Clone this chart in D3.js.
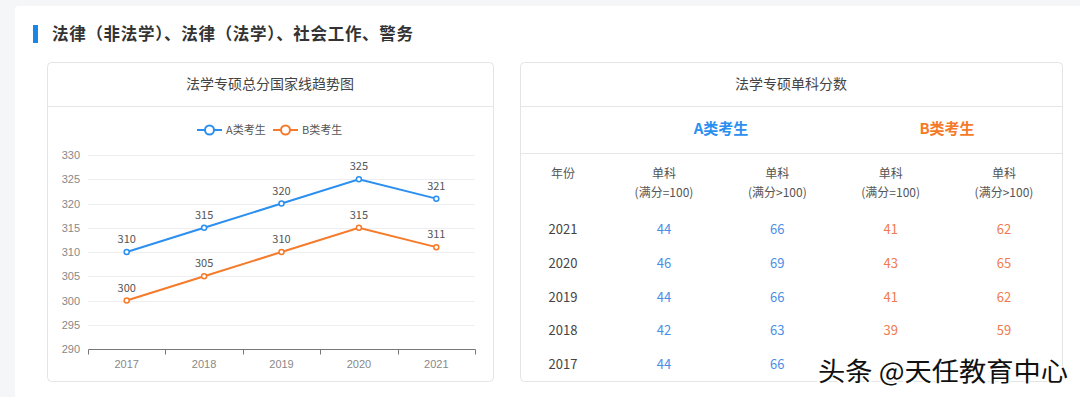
<!DOCTYPE html>
<html>
<head>
<meta charset="utf-8">
<script src="https://cdn.jsdelivr.net/npm/d3@7"></script>
<style>
  html, body { margin: 0; padding: 0; background: #f5f6f8; }
  svg { display: block; font-family: "Noto Sans CJK SC", "Noto Sans", sans-serif; }
</style>
</head>
<body>
<svg id="chart" width="1080" height="397"></svg>
<script>
// line chart data
const years = ['2017', '2018', '2019', '2020', '2021'];
const seriesA = [310, 315, 320, 325, 321];
const seriesB = [300, 305, 310, 315, 311];
const yTicks = [290, 295, 300, 305, 310, 315, 320, 325, 330];

// table data (rows from newest to oldest)
const tableYears = ['2021', '2020', '2019', '2018', '2017'];
const aFull100 = [44, 46, 44, 42, 44];
const aOver100 = [66, 69, 66, 63, 66];
const bFull100 = [41, 43, 41, 39, null];   // 2017 hidden under watermark
const bOver100 = [62, 65, 62, 59, null];
const colHeads = ['(满分=100)', '(满分>100)', '(满分=100)', '(满分>100)'];

const blue = '#2b8ff0';
const orange = '#f57a2a';

const svg = d3.select('#chart');

// white panel
svg.append('rect').attr('x', 15).attr('y', 6).attr('width', 1080).attr('height', 400)
    .attr('rx', 4).attr('fill', '#fff');

// section title
svg.append('rect').attr('x', 33).attr('y', 25).attr('width', 5).attr('height', 18).attr('fill', '#1a86e8');
svg.append('text').attr('x', 52).attr('y', 40).attr('font-size', 16.5).attr('font-weight', 'bold')
    .attr('fill', '#333').attr('textLength', 361).attr('lengthAdjust', 'spacing')
    .text('法律（非法学）、法律（法学）、社会工作、警务');

// cards
function card(x, w, title) {
    svg.append('rect').attr('x', x + 0.5).attr('y', 62.5).attr('width', w).attr('height', 319)
        .attr('rx', 4).attr('fill', '#fff').attr('stroke', '#e4e4e4');
    svg.append('line').attr('x1', x + 1).attr('x2', x + w).attr('y1', 106.5).attr('y2', 106.5)
        .attr('stroke', '#e6e6e6');
    svg.append('text').attr('x', x + w / 2).attr('y', 89).attr('text-anchor', 'middle')
        .attr('font-size', 14).attr('fill', '#444').text(title);
}
card(47, 446, '法学专硕总分国家线趋势图');
card(520, 542, '法学专硕单科分数');

// ---- line chart ----
const x = d3.scaleBand().domain(years).range([88, 475]);
const y = d3.scaleLinear().domain([290, 330]).range([349, 155]);

const grid = svg.append('g');
grid.selectAll('line').data(yTicks.slice(1)).enter().append('line')
    .attr('x1', 88).attr('x2', 475)
    .attr('y1', d => Math.round(y(d)) + 0.5).attr('y2', d => Math.round(y(d)) + 0.5)
    .attr('stroke', '#eceef2');

const yAxis = svg.append('g').attr('transform', 'translate(88,0)')
    .call(d3.axisLeft(y).tickValues(yTicks).tickSize(0).tickPadding(8));
yAxis.select('.domain').remove();
yAxis.selectAll('text').attr('fill', '#888').attr('font-size', 11).attr('font-family', null);

const xAxis = svg.append('g').attr('transform', 'translate(0,349.5)')
    .call(d3.axisBottom(x).tickSize(0).tickPadding(11));
xAxis.select('.domain').attr('stroke', '#777').attr('d', 'M88.5,0H475.5');
xAxis.selectAll('text').attr('fill', '#888').attr('font-size', 11).attr('font-family', null);
// ticks between bands
xAxis.selectAll('.sep').data(d3.range(years.length + 1)).enter().append('line')
    .attr('x1', i => Math.round(88 + i * x.step()) + 0.5)
    .attr('x2', i => Math.round(88 + i * x.step()) + 0.5)
    .attr('y1', 0).attr('y2', 5).attr('stroke', '#777');

const line = d3.line().x((d, i) => x(years[i]) + x.bandwidth() / 2).y(d => y(d));

[[seriesA, blue], [seriesB, orange]].forEach(([vals, color]) => {
    svg.append('path').datum(vals).attr('d', line).attr('fill', 'none')
        .attr('stroke', color).attr('stroke-width', 2);
    svg.selectAll(null).data(vals).enter().append('circle')
        .attr('cx', (d, i) => x(years[i]) + x.bandwidth() / 2).attr('cy', d => y(d)).attr('r', 2.5)
        .attr('fill', '#fff').attr('stroke', color).attr('stroke-width', 1.5);
    svg.selectAll(null).data(vals).enter().append('text')
        .attr('x', (d, i) => x(years[i]) + x.bandwidth() / 2).attr('y', d => y(d) - 9)
        .attr('text-anchor', 'middle').attr('font-size', 11).attr('fill', '#555').text(d => d);
});

// legend
[['A类考生', blue, 197], ['B类考生', orange, 273]].forEach(([label, color, lx]) => {
    svg.append('line').attr('x1', lx).attr('x2', lx + 25).attr('y1', 130).attr('y2', 130)
        .attr('stroke', color).attr('stroke-width', 2);
    svg.append('circle').attr('cx', lx + 12.5).attr('cy', 130).attr('r', 4.5)
        .attr('fill', '#fff').attr('stroke', color).attr('stroke-width', 2);
    svg.append('text').attr('x', lx + 29).attr('y', 134).attr('font-size', 11)
        .attr('fill', '#555').text(label);
});

// ---- table ----
svg.append('line').attr('x1', 521).attr('x2', 1062).attr('y1', 153.5).attr('y2', 153.5).attr('stroke', '#e6e6e6');
svg.append('text').attr('x', 721).attr('y', 134).attr('text-anchor', 'middle').attr('font-size', 15)
    .attr('font-weight', 'bold').attr('fill', blue).text('A类考生');
svg.append('text').attr('x', 947).attr('y', 134).attr('text-anchor', 'middle').attr('font-size', 15)
    .attr('font-weight', 'bold').attr('fill', orange).text('B类考生');

const col = d3.scalePoint().domain(d3.range(4)).range([664, 1004]);
const row = d3.scalePoint().domain(tableYears).range([229, 364]);

svg.append('text').attr('x', 563).attr('y', 178).attr('text-anchor', 'middle')
    .attr('font-size', 12).attr('fill', '#555').text('年份');
colHeads.forEach((h, i) => {
    svg.append('text').attr('x', col(i)).attr('y', 178).attr('text-anchor', 'middle')
        .attr('font-size', 12).attr('fill', '#555').text('单科');
    svg.append('text').attr('x', col(i)).attr('y', 197).attr('text-anchor', 'middle')
        .attr('font-size', 12).attr('fill', '#555').text(h);
});

svg.selectAll('.yr').data(tableYears).enter().append('text')
    .attr('x', 563).attr('y', d => row(d) + 5).attr('text-anchor', 'middle')
    .attr('font-size', 13).attr('fill', '#444').text(d => d);

[[aFull100, '#4a8fe6'], [aOver100, '#4a8fe6'], [bFull100, '#f07b50'], [bOver100, '#f07b50']].forEach(([vals, color], ci) => {
    svg.selectAll(null).data(vals).enter().append('text')
        .attr('x', col(ci)).attr('y', (d, i) => row(tableYears[i]) + 5).attr('text-anchor', 'middle')
        .attr('font-size', 13).attr('fill', color).text(d => d == null ? '' : d);
});

// watermark
svg.append('text').attr('x', 818).attr('y', 381).attr('font-size', 26)
    .attr('fill', '#111').attr('stroke', '#fff').attr('stroke-width', 3)
    .attr('paint-order', 'stroke').attr('textLength', 250).attr('lengthAdjust', 'spacingAndGlyphs')
    .text('头条 @天任教育中心');
</script>
</body>
</html>
